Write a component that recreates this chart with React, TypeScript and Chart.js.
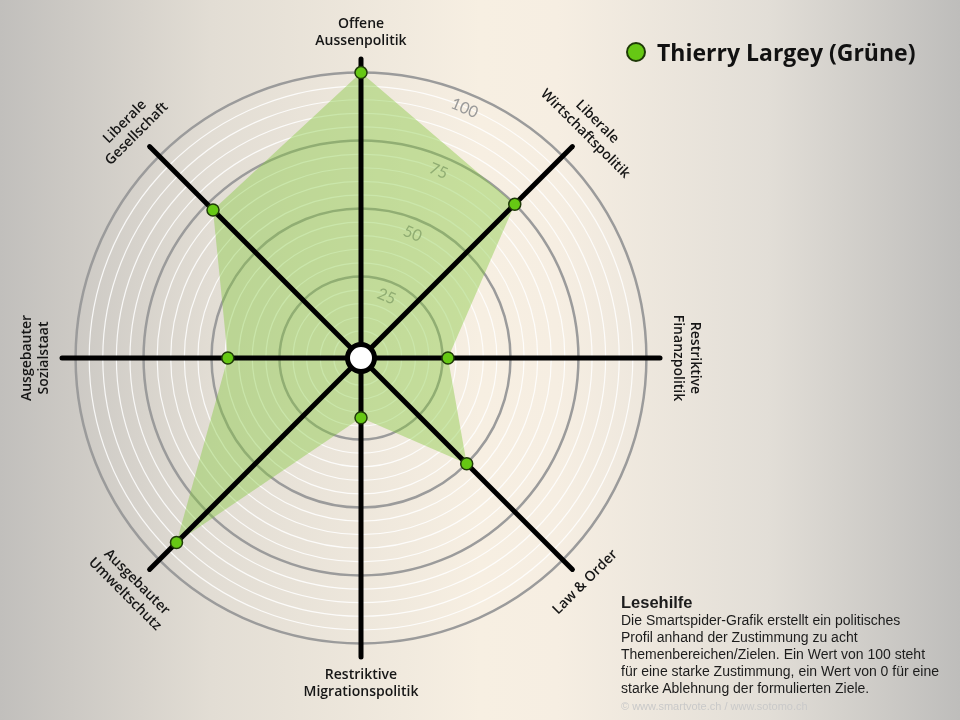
import React, { useEffect, useRef } from "react";
import { Chart, registerables } from "chart.js";

Chart.register(...registerables);

// ---- data ----
const categories: string[][] = [
  ["Offene", "Aussenpolitik"],
  ["Liberale", "Wirtschaftspolitik"],
  ["Restriktive", "Finanzpolitik"],
  ["Law & Order"],
  ["Restriktive", "Migrationspolitik"],
  ["Ausgebauter", "Umweltschutz"],
  ["Ausgebauter", "Sozialstaat"],
  ["Liberale", "Gesellschaft"],
];
const seriesName = "Thierry Largey (Grüne)";
const seriesValues = [100, 75, 27, 50, 17, 91, 44, 72];
const tickLabels = [25, 50, 75, 100];
const scaleMin = -5;
const scaleMax = 105;
const scaleStep = 5;

const POINT_GREEN = "#66c814";
const POINT_BORDER = "#1f3a08";

const spiderPlugin = {
  id: "spider",
  beforeDraw(chart: any) {
    const { ctx, width, height } = chart;
    ctx.save();
    const g = ctx.createLinearGradient(0, 0, width, 0);
    g.addColorStop(0, "#c1bfbc");
    g.addColorStop(0.22, "#e2ddd4");
    g.addColorStop(0.5, "#f7efe2");
    g.addColorStop(0.58, "#f6eee2");
    g.addColorStop(0.8, "#e2ded7");
    g.addColorStop(1, "#bebdbb");
    ctx.fillStyle = g;
    ctx.fillRect(0, 0, width, height);
    ctx.restore();
  },
  beforeDatasetsDraw(chart: any) {
    const s = chart.scales.r;
    const ctx = chart.ctx;
    ctx.save();
    // tick labels, rotated, between first two axes
    ctx.font = "16px Lato";
    ctx.fillStyle = "#999999";
    ctx.textAlign = "center";
    ctx.textBaseline = "middle";
    const a = s.getIndexAngle(0.5);
    tickLabels.forEach((v) => {
      const d = s.getDistanceFromCenterForValue(v) - 15;
      const p = s.getPointPosition(0.5, d);
      ctx.save();
      ctx.translate(p.x, p.y);
      ctx.rotate(a);
      ctx.fillText(String(v), 0, 0);
      ctx.restore();
    });
    // point labels, tangent to the circle
    ctx.font = "600 14px 'Open Sans'";
    ctx.fillStyle = "#161616";
    const lh = 17;
    const inner = s.drawingArea + 18;
    categories.forEach((lines, i) => {
      const ang = s.getIndexAngle(i);
      const flip = ang > Math.PI / 2 + 0.01 && ang < (3 * Math.PI) / 2 - 0.01;
      const rot = flip ? ang - Math.PI : ang;
      const p = s.getPointPosition(i, inner);
      ctx.save();
      ctx.translate(p.x, p.y);
      ctx.rotate(rot);
      const n = lines.length;
      lines.forEach((t, k) => {
        const y = flip ? k * lh : -(n - 1 - k) * lh;
        ctx.fillText(t, 0, y);
      });
      ctx.restore();
    });
    ctx.restore();
  },
  beforeDatasetDraw(chart: any) {
    // axes drawn above the fill, below the points
    const s = chart.scales.r;
    const ctx = chart.ctx;
    ctx.save();
    ctx.strokeStyle = "#000000";
    ctx.lineWidth = 5;
    ctx.lineCap = "round";
    categories.forEach((_, i) => {
      const p = s.getPointPosition(i, s.drawingArea);
      ctx.beginPath();
      ctx.moveTo(s.xCenter, s.yCenter);
      ctx.lineTo(p.x, p.y);
      ctx.stroke();
    });
    ctx.restore();
  },
  afterDatasetsDraw(chart: any) {
    const s = chart.scales.r;
    const ctx = chart.ctx;
    ctx.save();
    ctx.beginPath();
    ctx.arc(s.xCenter, s.yCenter, 13.5, 0, Math.PI * 2);
    ctx.fillStyle = "#ffffff";
    ctx.fill();
    ctx.lineWidth = 5;
    ctx.strokeStyle = "#000000";
    ctx.stroke();
    ctx.restore();
  },
};

export default function App() {
  const ref = useRef<HTMLCanvasElement | null>(null);

  useEffect(() => {
    if (!ref.current) return;
    const chart = new Chart(ref.current, {
      type: "radar",
      data: {
        labels: categories,
        datasets: [
          {
            label: seriesName,
            data: seriesValues,
            fill: "start",
            backgroundColor: "rgba(130, 200, 60, 0.42)",
            borderWidth: 0,
            borderColor: "rgba(0,0,0,0)",
            pointRadius: 6,
            pointBackgroundColor: POINT_GREEN,
            pointBorderColor: POINT_BORDER,
            pointBorderWidth: 1.5,
          },
        ],
      },
      options: {
        responsive: false,
        animation: false,
        devicePixelRatio: 1,
        events: [],
        layout: { padding: { left: 62, right: 300, top: 59, bottom: 63 } },
        plugins: {
          legend: { display: false },
          tooltip: { enabled: false },
          title: { display: false },
        },
        scales: {
          r: {
            min: scaleMin,
            max: scaleMax,
            ticks: { stepSize: scaleStep, display: false },
            pointLabels: { display: false },
            angleLines: { display: false },
            grid: {
              circular: true,
              color: (c: any) => {
                const v = c.tick ? c.tick.value : 0;
                if (v <= 0 || v > 100) return "rgba(0,0,0,0)";
                if (v % 25 === 0) return "#9b9b9b";
                return "rgba(255,255,255,0.85)";
              },
              lineWidth: (c: any) => {
                const v = c.tick ? c.tick.value : 0;
                return v % 25 === 0 ? 2.5 : 1.2;
              },
            },
          },
        },
      },
      plugins: [spiderPlugin],
    } as any);
    return () => chart.destroy();
  }, []);

  return (
    <div style={{ position: "fixed", left: 0, top: 0, width: 960, height: 720, overflow: "hidden" }}>
      <canvas ref={ref} width={960} height={720} style={{ display: "block" }} />
      <div
        style={{
          position: "absolute",
          left: 626,
          top: 36,
          display: "flex",
          alignItems: "center",
          fontFamily: "'Open Sans', sans-serif",
          fontWeight: 700,
          fontSize: 23,
          lineHeight: "32px",
          color: "#111",
          whiteSpace: "nowrap",
        }}
      >
        <span
          style={{
            display: "inline-block",
            width: 16,
            height: 16,
            borderRadius: "50%",
            background: POINT_GREEN,
            border: "2px solid " + POINT_BORDER,
            marginRight: 11,
          }}
        />
        <span>{seriesName}</span>
      </div>
      <div
        style={{
          position: "absolute",
          left: 621,
          top: 592,
          fontFamily: "'Liberation Sans', Arial, sans-serif",
          color: "#1c1c1c",
          whiteSpace: "nowrap",
        }}
      >
        <div style={{ fontWeight: 700, fontSize: 16.5, lineHeight: "20px" }}>Lesehilfe</div>
        <div style={{ fontSize: 14, lineHeight: "17px" }}>
          <div>Die Smartspider-Grafik erstellt ein politisches</div>
          <div>Profil anhand der Zustimmung zu acht</div>
          <div>Themenbereichen/Zielen. Ein Wert von 100 steht</div>
          <div>für eine starke Zustimmung, ein Wert von 0 für eine</div>
          <div>starke Ablehnung der formulierten Ziele.</div>
        </div>
        <div style={{ fontSize: 11, lineHeight: "18px", color: "#c9c9c9" }}>
          © www.smartvote.ch / www.sotomo.ch
        </div>
      </div>
    </div>
  );
}
